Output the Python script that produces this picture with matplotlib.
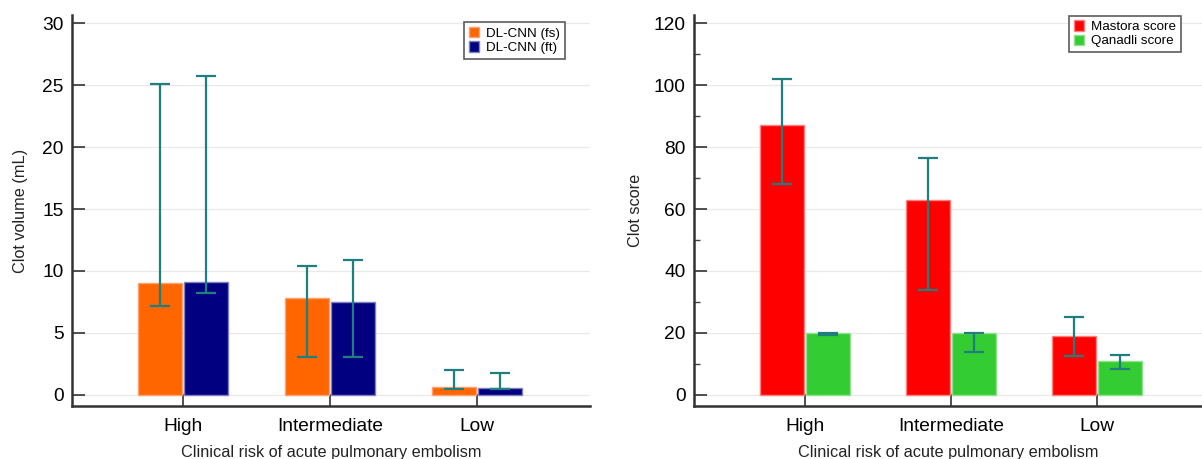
import matplotlib
matplotlib.use("Agg")
import matplotlib.pyplot as plt
import numpy as np

plt.rcParams['font.family'] = ['Liberation Sans', 'DejaVu Sans']

categories = ["High", "Intermediate", "Low"]

# Left panel: clot volume (mL)
fs_vals = [9.0, 7.8, 0.65]
fs_low = [7.2, 3.1, 0.5]
fs_high = [25.1, 10.4, 2.0]
ft_vals = [9.15, 7.5, 0.55]
ft_low = [8.2, 3.1, 0.5]
ft_high = [25.7, 10.9, 1.8]

# Right panel: clot score
mastora_vals = [87, 63, 19]
mastora_low = [68, 34, 12.5]
mastora_high = [102, 76.5, 25]
qanadli_vals = [20, 20, 11]
qanadli_low = [19.2, 14, 8.5]
qanadli_high = [20.0, 20.0, 13]

fig = plt.figure(figsize=(12.02, 4.59), dpi=100)
W, H = 1202, 459

ax1 = fig.add_axes([72 / W, 1 - 406 / H, (590 - 72) / W, (406 - 15) / H])
ax2 = fig.add_axes([694 / W, 1 - 406 / H, (1202 - 694) / W, (406 - 15) / H])

err_color = "#1f7f7f"
bw = 0.3


def panel(ax, a_vals, a_lo, a_hi, b_vals, b_lo, b_hi, ca, ea, cb, eb, la, lb,
          ylim, yticks, ylabel, xlim, minor=None, legend_loc=None):
    x = np.arange(len(categories))
    a_vals = np.array(a_vals); b_vals = np.array(b_vals)
    ax.bar(x - bw / 2 - 0.008, a_vals, bw, color=ca, edgecolor=ea, linewidth=1, label=la, zorder=2)
    ax.bar(x + bw / 2 + 0.008, b_vals, bw, color=cb, edgecolor=eb, linewidth=1, label=lb, zorder=2)
    ax.errorbar(x - bw / 2 - 0.008, a_vals,
                yerr=[a_vals - np.array(a_lo), np.array(a_hi) - a_vals],
                fmt='none', ecolor=err_color, elinewidth=1.6, capsize=7, capthick=1.6, zorder=3)
    ax.errorbar(x + bw / 2 + 0.008, b_vals,
                yerr=[b_vals - np.array(b_lo), np.array(b_hi) - b_vals],
                fmt='none', ecolor=err_color, elinewidth=1.6, capsize=7, capthick=1.6, zorder=3)
    ax.set_xlim(*xlim)
    ax.set_ylim(*ylim)
    ax.set_yticks(yticks)
    if minor is not None:
        ax.set_yticks(minor, minor=True)
        ax.tick_params(axis='y', which='minor', direction='in', length=4, width=1, color='#444444')
    ax.set_xticks(x)
    ax.set_xticklabels(categories, fontsize=13.8)
    ax.tick_params(axis='y', which='major', direction='in', length=9, width=1.2, labelsize=13.8, pad=6, color='#333333')
    ax.tick_params(axis='x', direction='in', length=9, width=1.2, pad=8.5, color='#333333')
    for t in yticks:
        ax.axhline(t, color='#dddddd', lw=0.9, ls=(0, (1, 0.6)), zorder=0.5)
    for s in ['top', 'right']:
        ax.spines[s].set_visible(False)
    for s in ['left', 'bottom']:
        ax.spines[s].set_linewidth(1.8)
        ax.spines[s].set_color('#333333')
    ax.set_ylabel(ylabel, fontsize=11.7, color='#222222')
    ax.set_xlabel("Clinical risk of acute pulmonary embolism", fontsize=11.7, color='#222222', labelpad=7)
    leg = ax.legend(loc=legend_loc, fontsize=9.6, frameon=True, fancybox=False,
                    handlelength=0.8, handleheight=0.8, handletextpad=0.5,
                    borderpad=0.35, labelspacing=0.12, borderaxespad=0.5)
    leg.get_frame().set_edgecolor('#333333')
    leg.get_frame().set_linewidth(1.2)
    return leg


panel(ax1, fs_vals, fs_low, fs_high, ft_vals, ft_low, ft_high,
      '#ff6600', '#ffa070', '#000080', '#8080c0', 'DL-CNN (fs)', 'DL-CNN (ft)',
      (-0.89, 30.65), [0, 5, 10, 15, 20, 25, 30], 'Clot volume (mL)', (-0.755, 2.77),
      legend_loc=(0.757, 0.888))
ax1.yaxis.set_label_coords(-0.085, 0.5)

panel(ax2, mastora_vals, mastora_low, mastora_high, qanadli_vals, qanadli_low, qanadli_high,
      '#ff0000', '#ff8080', '#33cc33', '#90e090', 'Mastora score', 'Qanadli score',
      (-3.56, 122.6), [0, 20, 40, 60, 80, 100, 120], 'Clot score', (-0.76, 2.72),
      minor=[10, 30, 50, 70, 90, 110], legend_loc=(0.738, 0.905))
ax2.yaxis.set_label_coords(-0.1, 0.5)

fig.savefig("out.png", dpi=100)
